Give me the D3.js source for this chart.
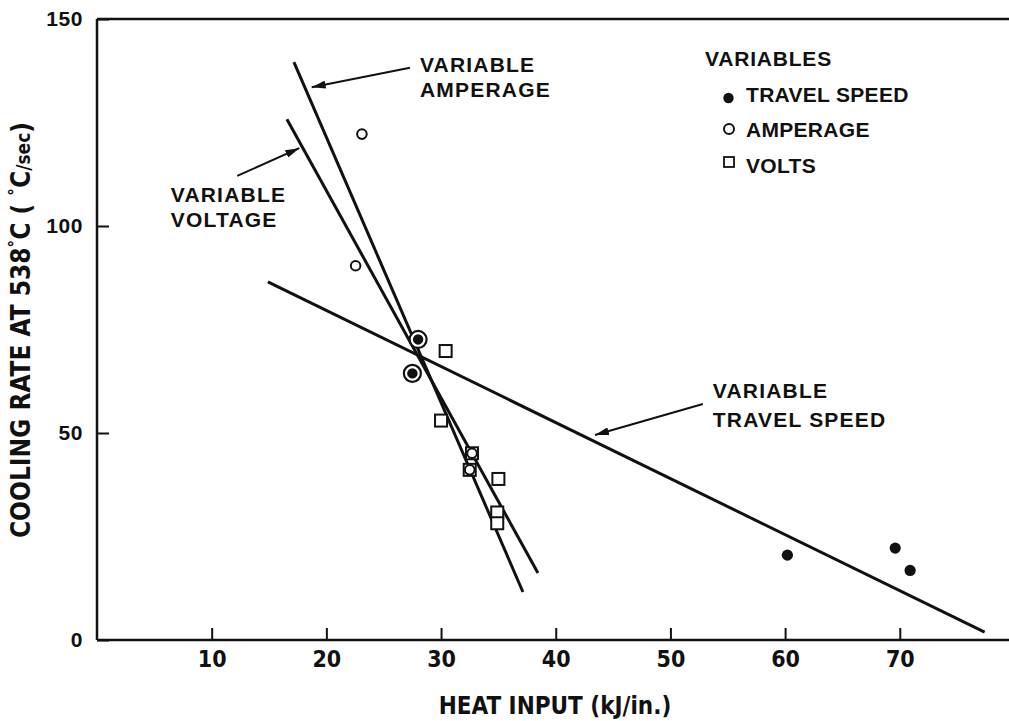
<!DOCTYPE html>
<html>
<head>
<meta charset="utf-8">
<script src="https://cdn.jsdelivr.net/npm/d3@7"></script>
<style>
  html, body { margin: 0; padding: 0; background: #fff; }
  svg { display: block; }
  .narrow { font-family: "Liberation Sans Narrow", "DejaVu Sans Condensed", "Liberation Sans", sans-serif; font-weight: bold; }
  .wide { font-family: "Liberation Sans", Arial, sans-serif; font-weight: bold; }
</style>
</head>
<body>
<svg id="chart" width="1009" height="721"></svg>
<script>
// ---------------- DATA ----------------
const xTicks = [10, 20, 30, 40, 50, 60, 70];
const yTicks = [0, 50, 100, 150];

// Travel speed varied (filled circles)
const travelSpeedX = [60.2, 69.6, 70.9];
const travelSpeedY = [20.5, 22.2, 16.8];

// Base-condition points common to all series (filled circle in ring)
const baseX = [28.0, 27.5];
const baseY = [72.6, 64.4];

// Amperage varied (open circles)
const amperageX = [23.1, 22.55, 32.7, 32.5];
const amperageY = [122.2, 90.4, 45.1, 41.1];

// Voltage varied (open squares)
const voltsX = [30.4, 30.0, 32.7, 32.5, 35.0, 34.9, 34.9];
const voltsY = [69.8, 53.0, 45.1, 41.1, 38.9, 30.8, 28.2];

// Fitted lines (end points)
const amperageLineX = [17.17, 37.14];
const amperageLineY = [139.6, 11.6];
const voltageLineX = [16.56, 38.45];
const voltageLineY = [125.8, 16.2];
const travelLineX = [14.9, 77.4];
const travelLineY = [86.5, 1.9];

const legendLabels = ["TRAVEL SPEED", "AMPERAGE", "VOLTS"];

// ---------------- CHART ----------------
const svg = d3.select("#chart");
const W = 1009, H = 721;
const x = d3.scaleLinear().domain([0, 79]).range([97, 1003]);
const y = d3.scaleLinear().domain([0, 150]).range([640, 19]);

const ink = "#111";

svg.append("defs").append("marker")
  .attr("id", "arrow").attr("viewBox", "0 0 14 8")
  .attr("refX", 14).attr("refY", 4)
  .attr("markerWidth", 14).attr("markerHeight", 8)
  .attr("markerUnits", "userSpaceOnUse")
  .attr("orient", "auto")
  .append("path").attr("d", "M0,0 L14,4 L0,8 Z").attr("fill", ink);

// frame lines: left, bottom, top
const frame = svg.append("g").attr("stroke", ink).attr("stroke-width", 2.5).attr("fill", "none");
frame.append("line").attr("x1", x(0)).attr("x2", W).attr("y1", y(0)).attr("y2", y(0));
frame.append("line").attr("x1", x(0)).attr("x2", W).attr("y1", y(150)).attr("y2", y(150));
frame.append("line").attr("x1", x(0)).attr("x2", x(0)).attr("y1", y(150)).attr("y2", y(0));

// x axis
const xAxis = svg.append("g").attr("transform", `translate(0,${y(0)})`)
  .call(d3.axisBottom(x).tickValues(xTicks).tickSizeInner(-12).tickSizeOuter(0).tickPadding(11));
xAxis.select(".domain").remove();
xAxis.selectAll(".tick line").attr("stroke", ink).attr("stroke-width", 2);
xAxis.selectAll(".tick text").attr("class", "narrow").attr("font-size", 23).attr("fill", ink);

// y axis
const yAxis = svg.append("g").attr("transform", `translate(${x(0)},0)`)
  .call(d3.axisLeft(y).tickValues(yTicks).tickSizeInner(-12).tickSizeOuter(0).tickPadding(14));
yAxis.select(".domain").remove();
yAxis.selectAll(".tick line").attr("stroke", ink).attr("stroke-width", 2);
yAxis.selectAll(".tick text").attr("class", "wide").attr("font-size", 21).attr("letter-spacing", 0.6).attr("fill", ink);

// axis titles
svg.append("text").attr("class", "narrow").attr("font-size", 24).attr("fill", ink)
  .attr("x", 555).attr("y", 714).attr("text-anchor", "middle")
  .text("HEAT INPUT (kJ/in.)");

const yt = svg.append("text").attr("class", "narrow").attr("font-size", 26).attr("fill", ink)
  .attr("text-anchor", "middle")
  .attr("transform", `translate(30,330) rotate(-90)`);
yt.append("tspan").text("COOLING RATE AT 538");
yt.append("tspan").attr("font-size", 17).attr("dy", -9).text("°");
yt.append("tspan").attr("dy", 9).text("C ( ");
yt.append("tspan").attr("font-size", 17).attr("dy", -9).text("°");
yt.append("tspan").attr("dy", 9).text("C");
yt.append("tspan").attr("font-size", 19).text("/sec");
yt.append("tspan").text(")");

// fitted lines
const lineGen = d3.line().x(d => x(d[0])).y(d => y(d[1]));
const lines = [
  d3.zip(amperageLineX, amperageLineY),
  d3.zip(voltageLineX, voltageLineY),
  d3.zip(travelLineX, travelLineY)
];
svg.append("g").selectAll("path").data(lines).join("path")
  .attr("d", lineGen).attr("fill", "none").attr("stroke", ink).attr("stroke-width", 3);

// volts squares
const sq = 12;
svg.append("g").selectAll("rect").data(d3.zip(voltsX, voltsY)).join("rect")
  .attr("x", d => x(d[0]) - sq / 2).attr("y", d => y(d[1]) - sq / 2)
  .attr("width", sq).attr("height", sq)
  .attr("fill", "#fff").attr("stroke", ink).attr("stroke-width", 2);

// amperage open circles
svg.append("g").selectAll("circle").data(d3.zip(amperageX, amperageY)).join("circle")
  .attr("cx", d => x(d[0])).attr("cy", d => y(d[1])).attr("r", 4.8)
  .attr("fill", "#fff").attr("stroke", ink).attr("stroke-width", 2);

// base points: ring + dot
const base = svg.append("g");
base.selectAll("circle.ring").data(d3.zip(baseX, baseY)).join("circle").attr("class", "ring")
  .attr("cx", d => x(d[0])).attr("cy", d => y(d[1])).attr("r", 8.5)
  .attr("fill", "#fff").attr("stroke", ink).attr("stroke-width", 2.2);
base.selectAll("circle.dot").data(d3.zip(baseX, baseY)).join("circle").attr("class", "dot")
  .attr("cx", d => x(d[0])).attr("cy", d => y(d[1])).attr("r", 5.2).attr("fill", ink);

// travel speed filled circles
svg.append("g").selectAll("circle").data(d3.zip(travelSpeedX, travelSpeedY)).join("circle")
  .attr("cx", d => x(d[0])).attr("cy", d => y(d[1])).attr("r", 5.6).attr("fill", ink);

// annotations (positions in data units)
const annotations = [
  { lines: ["VARIABLE", "AMPERAGE"], tx: 28.16, ty: [137.2, 131.2], from: [27.29, 138.2], to: [18.72, 133.5] },
  { lines: ["VARIABLE", "VOLTAGE"], tx: 6.43, ty: [105.9, 99.8], from: [12.23, 112.1], to: [17.64, 118.8] },
  { lines: ["VARIABLE", "TRAVEL SPEED"], tx: 53.7, ty: [58.5, 51.4], from: [52.83, 57.0], to: [43.42, 49.5] }
];
const ann = svg.append("g");
annotations.forEach(a => {
  ann.append("line")
    .attr("x1", x(a.from[0])).attr("y1", y(a.from[1]))
    .attr("x2", x(a.to[0])).attr("y2", y(a.to[1]))
    .attr("stroke", ink).attr("stroke-width", 2).attr("marker-end", "url(#arrow)");
  a.lines.forEach((t, i) => {
    ann.append("text").attr("class", "wide").attr("font-size", 21).attr("letter-spacing", 1.2)
      .attr("fill", ink).attr("x", x(a.tx)).attr("y", y(a.ty[i])).text(t);
  });
});

// legend
const lg = svg.append("g");
lg.append("text").attr("class", "wide").attr("font-size", 21).attr("letter-spacing", 0.8)
  .attr("fill", ink).attr("x", 705).attr("y", 66).text("VARIABLES");
const ly = [102, 137, 173];
legendLabels.forEach((t, i) => {
  lg.append("text").attr("class", "wide").attr("font-size", 21).attr("letter-spacing", 0.3)
    .attr("fill", ink).attr("x", 746).attr("y", ly[i]).text(t);
});
lg.append("circle").attr("cx", 728.5).attr("cy", 98).attr("r", 5.2).attr("fill", ink);
lg.append("circle").attr("cx", 729).attr("cy", 129).attr("r", 5).attr("fill", "#fff").attr("stroke", ink).attr("stroke-width", 2);
lg.append("rect").attr("x", 724).attr("y", 157).attr("width", 10).attr("height", 10).attr("fill", "#fff").attr("stroke", ink).attr("stroke-width", 1.8);
</script>
</body>
</html>
